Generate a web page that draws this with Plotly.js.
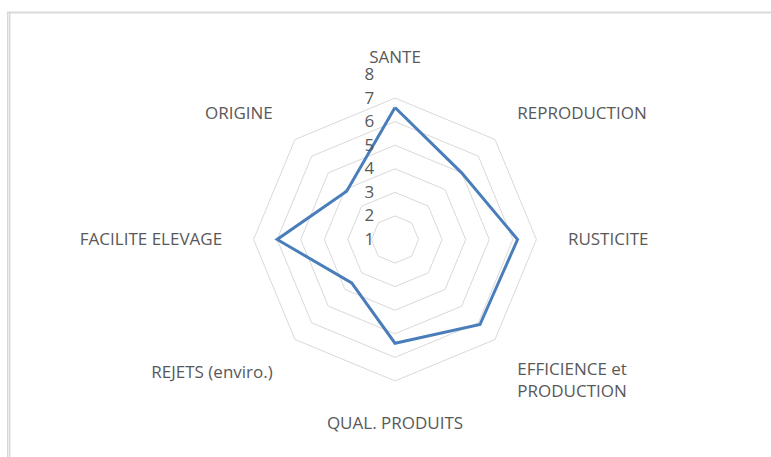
<!DOCTYPE html>
<html>
<head>
<meta charset="utf-8">
<script src="https://cdn.plot.ly/plotly-3.0.1.min.js"></script>
<style>html,body{margin:0;padding:0;background:#fff;}#chart{width:771px;height:457px;}</style>
</head>
<body>
<div id="chart"></div>
<script>
const categories = ["SANTE", "REPRODUCTION", "RUSTICITE", "EFFICIENCE et<br>PRODUCTION", "QUAL. PRODUITS", "REJETS (enviro.)", "FACILITE ELEVAGE", "ORIGINE"];
const values = [6.6, 5.0, 6.2, 6.1, 5.4, 3.6, 6.0, 3.9];
const radialTicks = [1, 2, 3, 4, 5, 6, 7, 8];

const W = 771, H = 457;
const cx = 395, cy = 239.5, R = 165;

const trace = {
  type: 'scatterpolar',
  r: values.concat([values[0]]),
  theta: categories.concat([categories[0]]),
  mode: 'lines',
  line: {color: '#4A7EBB', width: 3},
  hoverinfo: 'skip'
};

const layout = {
  width: W, height: H,
  margin: {l: 0, r: 0, t: 0, b: 0},
  paper_bgcolor: '#fff',
  showlegend: false,
  font: {family: 'Open Sans, sans-serif', color: '#595959', size: 17},
  polar: {
    domain: {x: [(cx - R) / W, (cx + R) / W], y: [(H - cy - R) / H, (H - cy + R) / H]},
    gridshape: 'linear',
    bgcolor: 'rgba(0,0,0,0)',
    angularaxis: {
      direction: 'clockwise', rotation: 90,
      showgrid: false, showline: false,
      ticks: 'outside', ticklen: 4, tickcolor: 'rgba(0,0,0,0)',
      tickfont: {size: 17, color: '#595959'}
    },
    radialaxis: {
      range: [1, 8], tickvals: radialTicks,
      ticktext: radialTicks.map(v => String(v) + '\u00a0\u00a0\u00a0\u00a0'),
      angle: 90, tickangle: 90, side: 'counterclockwise',
      showline: false, ticks: '',
      gridcolor: '#D9D9D9', gridwidth: 1,
      tickfont: {size: 17, color: '#595959'}
    }
  },
  shapes: [
    {type: 'line', xref: 'paper', yref: 'paper', x0: 8 / W, x1: 1, y0: 1 - 12.5 / H, y1: 1 - 12.5 / H, line: {color: '#D9D9D9', width: 2}},
    {type: 'line', xref: 'paper', yref: 'paper', x0: 9.5 / W, x1: 9.5 / W, y0: 0, y1: 1 - 12 / H, line: {color: '#D9D9D9', width: 2}},
    {type: 'line', xref: 'paper', yref: 'paper', x0: 7.5 / W, x1: 7.5 / W, y0: 0, y1: 1 - 11.5 / H, line: {color: '#F2F200', width: 1}}
  ]
};

Plotly.newPlot('chart', [trace], layout, {displayModeBar: false, staticPlot: true});
</script>
</body>
</html>
